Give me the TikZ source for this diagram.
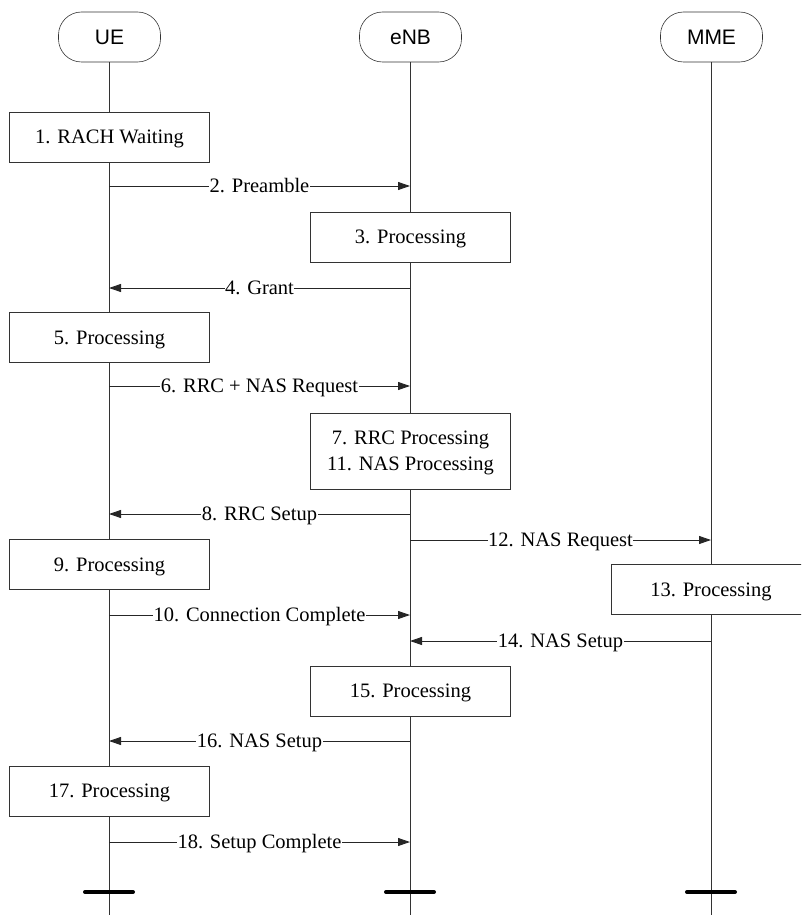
\documentclass[tikz,border=0pt]{standalone}
\usepackage{fontspec}
\setmainfont{Liberation Serif}
\newfontfamily\hdrfont{Liberation Sans}
\usetikzlibrary{arrows.meta}
\tikzset{
  entnode/.style={draw=black!80,semithick,rounded corners=23pt,minimum width=102pt,minimum height=50pt,inner sep=0pt,font=\hdrfont\fontsize{21}{25}\selectfont},
  procbox/.style={draw=black!80,semithick,fill=white,minimum width=200pt,minimum height=50pt,inner sep=2pt,align=center,text height=13.5pt,text depth=0pt,font=\fontsize{20.5}{26}\selectfont},
  procbox2/.style={procbox,text height={},text depth={},minimum height=76pt},
  lifeline/.style={black!80,semithick},
  msgedge/.style={-{Triangle[length=12pt,width=8pt]},line width=0.9pt,black!85},
  msglbl/.style={midway,fill=white,inner xsep=0.5pt,inner ysep=0pt,text height=13.5pt,text depth=0pt,text=black,font=\fontsize{20.5}{24}\selectfont},
  endbar/.style={line width=4pt,line cap=round},
}

\begin{document}
\begin{tikzpicture}[x=1pt,y=-1pt]
  \useasboundingbox (0,0) rectangle (801,915);
  \clip (0,0) rectangle (801,915);
  % entities
  \node[entnode] (hUE) at (109.5,37) {UE};
  \node[entnode] (hENB) at (410.5,37) {eNB};
  \node[entnode] (hMME) at (711.5,37) {MME};
  \coordinate (bUE) at (109,915);
  \coordinate (bENB) at (410,915);
  \coordinate (bMME) at (711,915);
  \draw[lifeline] (hUE.south) -- (hUE.south |- bUE);
  \draw[lifeline] (hENB.south) -- (hENB.south |- bENB);
  \draw[lifeline] (hMME.south) -- (hMME.south |- bMME);
  % end bars
  \coordinate (zUE) at (109,892);
  \coordinate (zENB) at (410,892);
  \coordinate (zMME) at (711,892);
  \draw[endbar] ([xshift=-24pt]zUE) -- ([xshift=24pt]zUE);
  \draw[endbar] ([xshift=-24pt]zENB) -- ([xshift=24pt]zENB);
  \draw[endbar] ([xshift=-24pt]zMME) -- ([xshift=24pt]zMME);
  % processing steps
  \node[procbox] (p1) at (109.5,137) {1. RACH Waiting};
  \node[procbox] (p3) at (410.5,237) {3. Processing};
  \node[procbox] (p5) at (109.5,337.5) {5. Processing};
  \node[procbox2] (p7) at (410.5,451) {\rule{0pt}{18pt}7. RRC Processing\\11. NAS Processing};
  \node[procbox] (p9) at (109.5,564.5) {9. Processing};
  \node[procbox] (p13) at (711,589.5) {13. Processing};
  \node[procbox] (p15) at (410.5,691) {15. Processing};
  \node[procbox] (p17) at (109.5,791) {17. Processing};
  % message end points
  \coordinate (m2a) at (109,186);   \coordinate (m2b) at (410,186);
  \coordinate (m4a) at (410,288);   \coordinate (m4b) at (109,288);
  \coordinate (m6a) at (109,386);   \coordinate (m6b) at (410,386);
  \coordinate (m8a) at (410,514);   \coordinate (m8b) at (109,514);
  \coordinate (m12a) at (410,540);  \coordinate (m12b) at (711,540);
  \coordinate (m10a) at (109,615);  \coordinate (m10b) at (410,615);
  \coordinate (m14a) at (711,641);  \coordinate (m14b) at (410,641);
  \coordinate (m16a) at (410,741);  \coordinate (m16b) at (109,741);
  \coordinate (m18a) at (109,842);  \coordinate (m18b) at (410,842);
  % messages
  \draw[msgedge] (m2a) -- node[msglbl] {2. Preamble} (m2b);
  \draw[msgedge] (m4a) -- node[msglbl] {4. Grant} (m4b);
  \draw[msgedge] (m6a) -- node[msglbl] {6. RRC + NAS Request} (m6b);
  \draw[msgedge] (m8a) -- node[msglbl] {8. RRC Setup} (m8b);
  \draw[msgedge] (m12a) -- node[msglbl] {12. NAS Request} (m12b);
  \draw[msgedge] (m10a) -- node[msglbl] {10. Connection Complete} (m10b);
  \draw[msgedge] (m14a) -- node[msglbl] {14. NAS Setup} (m14b);
  \draw[msgedge] (m16a) -- node[msglbl] {16. NAS Setup} (m16b);
  \draw[msgedge] (m18a) -- node[msglbl] {18. Setup Complete} (m18b);
\end{tikzpicture}
\end{document}
